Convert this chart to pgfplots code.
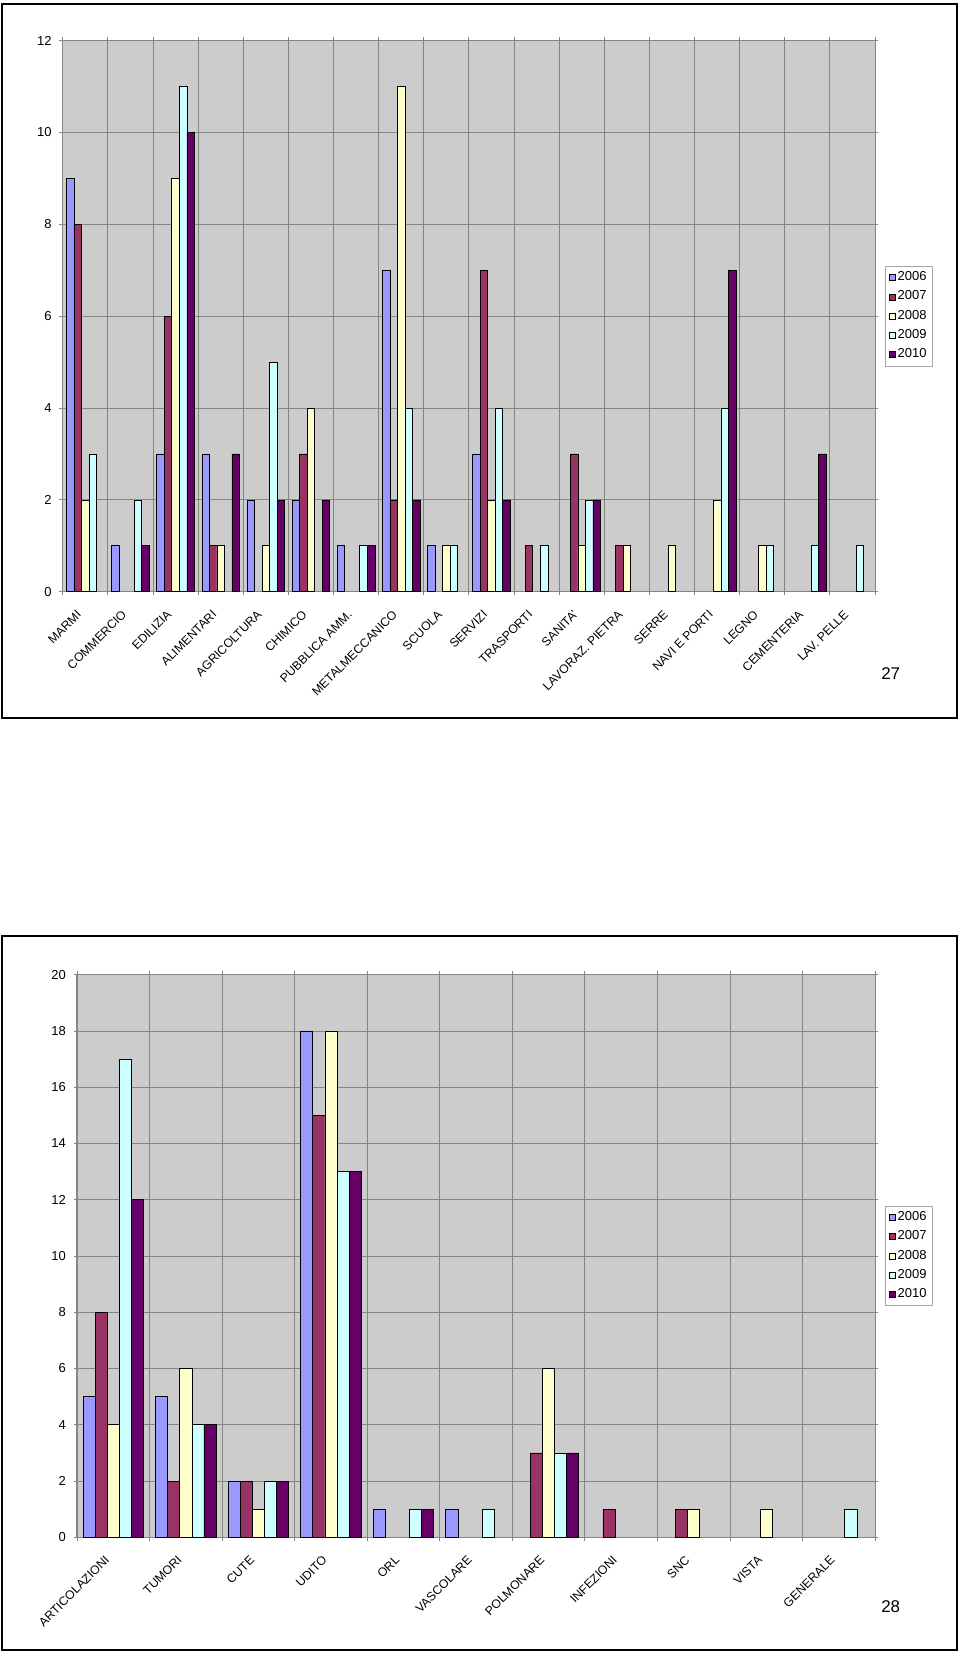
\documentclass[border=0pt]{standalone}
\usepackage{pgfplots}
\usepackage{pgfplotstable}
\usepackage{fontspec}
\setmainfont{Liberation Sans}
\pgfplotsset{compat=1.18}

\definecolor{c06}{HTML}{9999FF}
\definecolor{c07}{HTML}{993366}
\definecolor{c08}{HTML}{FFFFCC}
\definecolor{c09}{HTML}{CCFFFF}
\definecolor{c10}{HTML}{660066}
\definecolor{plotbg}{HTML}{CCCCCC}
\definecolor{gridc}{HTML}{858585}

\pgfplotstableread{
x a b c d e
0 9 8 2 3 0
1 1 0 0 2 1
2 3 6 9 11 10
3 3 1 1 0 3
4 2 0 1 5 2
5 2 3 4 0 2
6 1 0 0 1 1
7 7 2 11 4 2
8 1 0 1 1 0
9 3 7 2 4 2
10 0 1 0 1 0
11 0 3 1 2 2
12 0 1 1 0 0
13 0 0 1 0 0
14 0 0 2 4 7
15 0 0 1 1 0
16 0 0 0 1 3
17 0 0 0 1 0
}\settori

\pgfplotstableread{
x a b c d e
0 5 8 4 17 12
1 5 2 6 4 4
2 2 2 1 2 2
3 18 15 18 13 13
4 1 0 0 1 1
5 1 0 0 1 0
6 0 3 6 3 3
7 0 1 0 0 0
8 0 1 1 0 0
9 0 0 1 0 0
10 0 0 0 1 0
}\patologie

\pgfplotsset{
  myleg/.style={legend image code/.code={\draw[##1, draw=black, line width=0.3pt] (0pt,-1.5pt) rectangle (3pt,1.5pt);}},
  chartbase/.style={
    scale only axis,
    ybar=0pt,
    ymin=0,
    axis background/.style={fill=plotbg},
    axis line style={gridc, line width=0.5pt},
    ymajorgrids=true,
    xminorgrids=true,
    grid style={gridc, line width=0.4pt},
    minor grid style={gridc, line width=0.4pt},
    tick align=outside,
    major tick length=1.7pt,
    minor tick length=1.7pt,
    tick style={gridc, line width=0.4pt},
    major x tick style={draw=none},
    ytick distance=2,
    yticklabel style={font=\fontsize{6.5}{7.8}\selectfont, xshift=-0.3pt},
    xticklabel style={font=\fontsize{6.1}{7.3}\selectfont, rotate=45, anchor=north east, inner sep=0pt, xshift=-8.2pt, yshift=-1.6pt},
    /pgf/number format/assume math mode=true,
    y filter/.expression={y==0 ? nan : y},
    unbounded coords=discard,
    every axis plot/.append style={draw=black, line width=0.3pt},
    legend style={font=\fontsize{6.5}{7.8}\selectfont, draw=gray!70, line width=0.4pt, fill=white,
      inner xsep=2pt, inner ysep=1.8pt, row sep=2pt, anchor=west,
      nodes={inner sep=0.8pt},
      /tikz/every even column/.append style={column sep=0pt}},
    legend cell align=left,
  }
}

\begin{document}
\begin{tikzpicture}
\useasboundingbox (0,0) rectangle (480pt,827pt);
% frames
\draw[line width=1pt] (1.15pt,468pt) rectangle (478.5pt,824.9pt);
\draw[line width=1pt] (1.15pt,1.75pt) rectangle (478.5pt,358.75pt);

\begin{axis}[chartbase,
  at={(31.35pt,531.15pt)}, anchor=south west,
  width=406.15pt, height=275.5pt,
  bar width=3.76pt,
  xmin=-0.5, xmax=17.5, ymax=12,
  xtick={0,...,17},
  minor xtick={-0.5,0.5,...,17.5},
  xticklabels={MARMI,COMMERCIO,EDILIZIA,ALIMENTARI,AGRICOLTURA,CHIMICO,PUBBLICA AMM.,METALMECCANICO,SCUOLA,SERVIZI,TRASPORTI,SANITA',LAVORAZ. PIETRA,SERRE,NAVI E PORTI,LEGNO,CEMENTERIA,LAV. PELLE},
  legend style={at={(1.0123,0.5)}},
]
\addplot[fill=c06, myleg] table[x=x,y=a] {\settori};
\addplot[fill=c07, myleg] table[x=x,y=b] {\settori};
\addplot[fill=c08, myleg] table[x=x,y=c] {\settori};
\addplot[fill=c09, myleg] table[x=x,y=d] {\settori};
\addplot[fill=c10, myleg] table[x=x,y=e] {\settori};
\legend{2006,2007,2008,2009,2010}
\end{axis}

\begin{axis}[chartbase,
  at={(38.5pt,58.35pt)}, anchor=south west,
  width=399pt, height=281.3pt,
  bar width=6.045pt,
  xmin=-0.5, xmax=10.5, ymax=20,
  xtick={0,...,10},
  minor xtick={-0.5,0.5,...,10.5},
  xticklabels={ARTICOLAZIONI,TUMORI,CUTE,UDITO,ORL,VASCOLARE,POLMONARE,INFEZIONI,SNC,VISTA,GENERALE},
  legend style={at={(1.0125,0.5)}},
]
\addplot[fill=c06, myleg] table[x=x,y=a] {\patologie};
\addplot[fill=c07, myleg] table[x=x,y=b] {\patologie};
\addplot[fill=c08, myleg] table[x=x,y=c] {\patologie};
\addplot[fill=c09, myleg] table[x=x,y=d] {\patologie};
\addplot[fill=c10, myleg] table[x=x,y=e] {\patologie};
\legend{2006,2007,2008,2009,2010}
\end{axis}

\node[font=\fontsize{8.5}{10}\selectfont] at (445.35pt,490.35pt) {27};
\node[font=\fontsize{8.5}{10}\selectfont] at (445.35pt,23.65pt) {28};
\end{tikzpicture}
\end{document}
